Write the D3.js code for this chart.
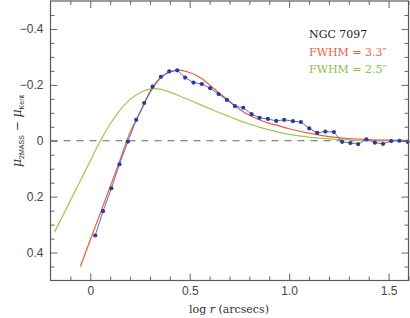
<!DOCTYPE html>
<html>
<head>
<meta charset="utf-8">
<script src="https://cdn.jsdelivr.net/npm/d3@7"></script>
<style>
  body { margin: 0; background: #fff; }
  svg { display: block; }
  .tick text { font-family: "Liberation Sans", Arial, sans-serif; font-size: 12px; fill: #444; }
  .tick line { stroke: #666; }
  .domain { stroke: none; }
</style>
</head>
<body>
<script>
const width = 410;
const height = 318;

// NGC 7097 profile residuals (blue points)
const logR = [0.025, 0.064, 0.106, 0.147, 0.189, 0.231, 0.271, 0.313, 0.355, 0.397,
              0.437, 0.477, 0.519, 0.561, 0.603, 0.645, 0.687, 0.727, 0.769, 0.811,
              0.851, 0.893, 0.935, 0.975, 1.019, 1.059, 1.101, 1.141, 1.182, 1.225,
              1.266, 1.308, 1.347, 1.388, 1.431, 1.472, 1.513, 1.554, 1.596];
const muDiff = [0.339, 0.252, 0.170, 0.084, 0.003, -0.075, -0.135, -0.194, -0.229, -0.248,
                -0.252, -0.226, -0.208, -0.203, -0.188, -0.167, -0.146, -0.124, -0.118, -0.095,
                -0.082, -0.078, -0.071, -0.075, -0.070, -0.067, -0.044, -0.028, -0.033, -0.031,
                0.004, 0.008, 0.012, -0.005, 0.007, 0.011, 0.001, 0.000, 0.004];

// FWHM = 3.3" model
const redR  = [-0.05, 0.0, 0.05, 0.10, 0.15, 0.20, 0.25, 0.30, 0.35, 0.40, 0.45, 0.50, 0.55, 0.60,
               0.65, 0.70, 0.75, 0.80, 0.85, 0.90, 0.95, 1.00, 1.10, 1.20, 1.30, 1.40, 1.50, 1.60];
const redMu = [0.450, 0.355, 0.260, 0.165, 0.068, -0.030, -0.100, -0.172, -0.222, -0.246, -0.253, -0.244, -0.227, -0.200,
               -0.170, -0.141, -0.113, -0.091, -0.075, -0.062, -0.053, -0.043, -0.027, -0.015, -0.008, -0.004, -0.002, -0.001];

// FWHM = 2.5" model
const greenR  = [-0.18, -0.15, -0.10, -0.05, 0.0, 0.05, 0.10, 0.15, 0.20, 0.25, 0.30, 0.35, 0.40,
                 0.45, 0.50, 0.55, 0.60, 0.65, 0.70, 0.75, 0.80, 0.85, 0.90, 0.95, 1.00,
                 1.10, 1.20, 1.30, 1.40, 1.50, 1.60];
const greenMu = [0.327, 0.285, 0.214, 0.143, 0.072, 0.001, -0.060, -0.110, -0.148, -0.172, -0.185, -0.185, -0.174,
                 -0.160, -0.145, -0.130, -0.115, -0.100, -0.086, -0.072, -0.060, -0.049, -0.039, -0.030, -0.023,
                 -0.013, -0.007, -0.003, -0.001, 0.0, 0.0];

const xTicks = [0, 0.5, 1.0, 1.5];
const xTickLabels = ["0", "0.5", "1.0", "1.5"];
const yTicks = [-0.4, -0.2, 0, 0.2, 0.4];
const yTickLabels = ["\u22120.4", "\u22120.2", "0", "0.2", "0.4"];
const legendLines = ["NGC 7097", "FWHM = 3.3\u2033", "FWHM = 2.5\u2033"];

const pLeft = 50.5, pRight = 408.5, pTop = 1, pBottom = 280.5;
const x = d3.scaleLinear().domain([-0.2, 1.6]).range([pLeft, pRight]);
const y = d3.scaleLinear().domain([-0.5, 0.5]).range([pTop, pBottom]);

const svg = d3.select("body").append("svg")
  .attr("width", width)
  .attr("height", height);

const plot = svg.append("g");

// zero line
plot.append("line")
  .attr("x1", x(-0.2)).attr("x2", x(1.6))
  .attr("y1", y(0)).attr("y2", y(0))
  .attr("stroke", "#666")
  .attr("stroke-width", 1.1)
  .attr("stroke-dasharray", "7,6");

const line = d3.line()
  .x(d => x(d[0]))
  .y(d => y(d[1]))
  .curve(d3.curveCatmullRom);

plot.append("path")
  .datum(greenR.map((r, i) => [r, greenMu[i]]))
  .attr("d", line)
  .attr("fill", "none")
  .attr("stroke", "#9cc94e")
  .attr("stroke-width", 1.2);

plot.append("path")
  .datum(redR.map((r, i) => [r, redMu[i]]))
  .attr("d", line)
  .attr("fill", "none")
  .attr("stroke", "#f25c3a")
  .attr("stroke-width", 1.2);

const pts = logR.map((r, i) => [r, muDiff[i]]);
plot.append("path")
  .datum(pts)
  .attr("d", d3.line().x(d => x(d[0])).y(d => y(d[1])))
  .attr("fill", "none")
  .attr("stroke", "#5a6ccc")
  .attr("stroke-width", 1);

plot.selectAll(".pt")
  .data(pts)
  .enter().append("circle")
  .attr("class", "pt")
  .attr("cx", d => x(d[0]))
  .attr("cy", d => y(d[1]))
  .attr("r", 2.1)
  .attr("fill", "#2b3a9c");

// minor ticks every 0.1 / 0.05
const xMinor = d3.range(-0.1, 1.61, 0.1).map(v => +v.toFixed(2)).filter(v => xTicks.indexOf(v) < 0);
const yMinor = d3.range(-0.45, 0.5, 0.05).map(v => +v.toFixed(2)).filter(v => yTicks.indexOf(v) < 0);

function addAxis(axis, tr, major, labels, minor) {
  svg.append("g").attr("transform", tr)
    .call(axis.tickValues(major).tickSize(-7).tickSizeOuter(0)
      .tickFormat((d, i) => labels ? labels[i] : ""));
  svg.append("g").attr("transform", tr)
    .call(axis.tickValues(minor).tickSize(-4).tickSizeOuter(0).tickFormat(""));
}

addAxis(d3.axisBottom(x).tickPadding(6), `translate(0,${pBottom})`, xTicks, xTickLabels, xMinor);
addAxis(d3.axisTop(x), `translate(0,${pTop})`, xTicks, null, xMinor);
addAxis(d3.axisLeft(y).tickPadding(7), `translate(${pLeft},0)`, yTicks, yTickLabels, yMinor);
addAxis(d3.axisRight(y), `translate(${pRight},0)`, yTicks, null, yMinor);

// frame
svg.append("rect")
  .attr("x", pLeft).attr("y", pTop)
  .attr("width", pRight - pLeft).attr("height", pBottom - pTop)
  .attr("fill", "none")
  .attr("stroke", "#5a5a5a")
  .attr("stroke-width", 1.2);

// x label
const xl = svg.append("text")
  .attr("x", 229).attr("y", 313)
  .attr("text-anchor", "middle")
  .style("font-family", "'DejaVu Serif', serif")
  .style("font-size", "11px")
  .attr("fill", "#333");
xl.append("tspan").text("log ");
xl.append("tspan").style("font-style", "italic").text("r");
xl.append("tspan").text(" (arcsecs)");

// y label
const yl = svg.append("text")
  .attr("transform", "translate(21,131) rotate(-90)")
  .attr("text-anchor", "middle")
  .style("font-family", "'DejaVu Serif', serif")
  .attr("fill", "#333");
yl.append("tspan").style("font-style", "italic").style("font-size", "12.5px").text("\u03bc");
yl.append("tspan").style("font-family", "'Liberation Sans', sans-serif").style("font-size", "7px").attr("dy", 3).text("2MASS");
yl.append("tspan").style("font-size", "12px").attr("dy", -3).text(" \u2212 ");
yl.append("tspan").style("font-style", "italic").style("font-size", "12.5px").text("\u03bc");
yl.append("tspan").style("font-family", "'Liberation Sans', sans-serif").style("font-size", "7px").attr("dy", 3).text("Kent");

// legend
const legendColors = ["#222", "#f25c3a", "#8cc043"];
svg.append("g").selectAll("text")
  .data(legendLines)
  .enter().append("text")
  .attr("x", 309)
  .attr("y", (d, i) => 38 + i * 17.5)
  .attr("fill", (d, i) => legendColors[i])
  .style("font-family", "'DejaVu Serif', serif")
  .style("font-size", "11px")
  .attr("xml:space", "preserve")
  .text(d => d);
</script>
</body>
</html>
